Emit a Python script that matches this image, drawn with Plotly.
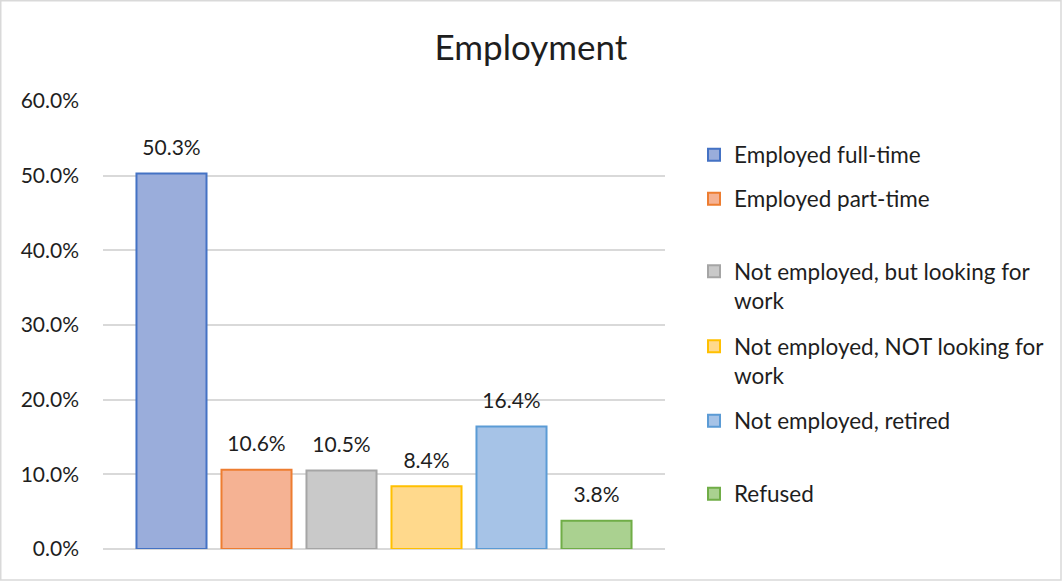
import plotly.graph_objects as go

title = "Employment"
categories = ["Employed full-time", "Employed part-time",
              "Not employed, but looking for<br>work",
              "Not employed, NOT looking for<br>work",
              "Not employed, retired", "Refused"]
values = [0.503, 0.106, 0.105, 0.084, 0.164, 0.038]
fill_colors = ["#9AADDB", "#F5B293", "#C9C9C9", "#FFD98C", "#A6C3E7", "#AAD190"]
line_colors = ["#4472C4", "#ED7D31", "#A5A5A5", "#FFC000", "#5B9BD5", "#70AD47"]
legend_y_px = [155, 199, 272, 347, 421, 494]

FONT = "Lato"
TXT = "#1e1e1e"
BARGAP = 0.0925

fig = go.Figure()
for i, (name, v) in enumerate(zip(categories, values)):
    lg = "legend" if i == 0 else f"legend{i+1}"
    fig.add_trace(go.Bar(
        x=[title], y=[v], name=name,
        marker=dict(color=fill_colors[i], line=dict(color=line_colors[i], width=2)),
        legend=lg,
    ))
# data labels
for i, v in enumerate(values):
    fig.add_trace(go.Scatter(
        x=[title], y=[v], mode="markers+text", text=[f"{v:.1%}"], textposition="top center",
        marker=dict(size=20, opacity=0), textfont=dict(family=FONT, size=21, color=TXT),
        showlegend=False, hoverinfo="skip", cliponaxis=False,
    ))

H, W = 581, 1062
top, bottom, left, right = 101, 549, 103, 665
ph, pw = bottom - top, right - left
layout_legends = {}
for i, ypx in enumerate(legend_y_px):
    key = "legend" if i == 0 else f"legend{i+1}"
    two = i in (2, 3)
    layout_legends[key] = dict(
        x=(694 - left) / pw, xanchor="left",
        y=(bottom - (ypx - 22 if two else ypx)) / ph, yanchor="top" if two else "middle",
        font=dict(family=FONT, size=22.5, color=TXT),
        bgcolor="rgba(0,0,0,0)", valign="top", itemwidth=30,
    )

fig.update_layout(
    width=W, height=H,
    margin=dict(l=left, r=W - right, t=top, b=H - bottom, pad=0),
    paper_bgcolor="white", plot_bgcolor="white",
    title=dict(text=title, x=0.5, xanchor="center", y=1 - 48 / H, yanchor="middle",
               font=dict(family=FONT, size=35, color=TXT)),
    barmode="group", bargap=BARGAP, bargroupgap=0.176,
    scattermode="group", scattergap=BARGAP,
    showlegend=True,
    xaxis=dict(showticklabels=False, showgrid=False, zeroline=False, showline=False, ticks=""),
    yaxis=dict(range=[0, 0.6], dtick=0.1, tickformat=".1%", showgrid=True,
               gridcolor="#D9D9D9", gridwidth=1.5, zeroline=True, zerolinecolor="#D9D9D9",
               zerolinewidth=1.5, showline=False, ticks="", ticklabelstandoff=23,
               tickfont=dict(family=FONT, size=21, color=TXT)),
    shapes=[dict(type="rect", xref="paper", yref="paper",
                 x0=(0.75 - left) / pw, x1=(W - 1 - left) / pw,
                 y0=(bottom - (H - 1)) / ph, y1=(bottom - 0.75) / ph,
                 line=dict(color="#D9D9D9", width=1.5), fillcolor="rgba(0,0,0,0)", layer="below")],
    **layout_legends,
)
fig.write_html("out.html", config={"displayModeBar": False},
               post_script="document.body.style.margin='0';")
